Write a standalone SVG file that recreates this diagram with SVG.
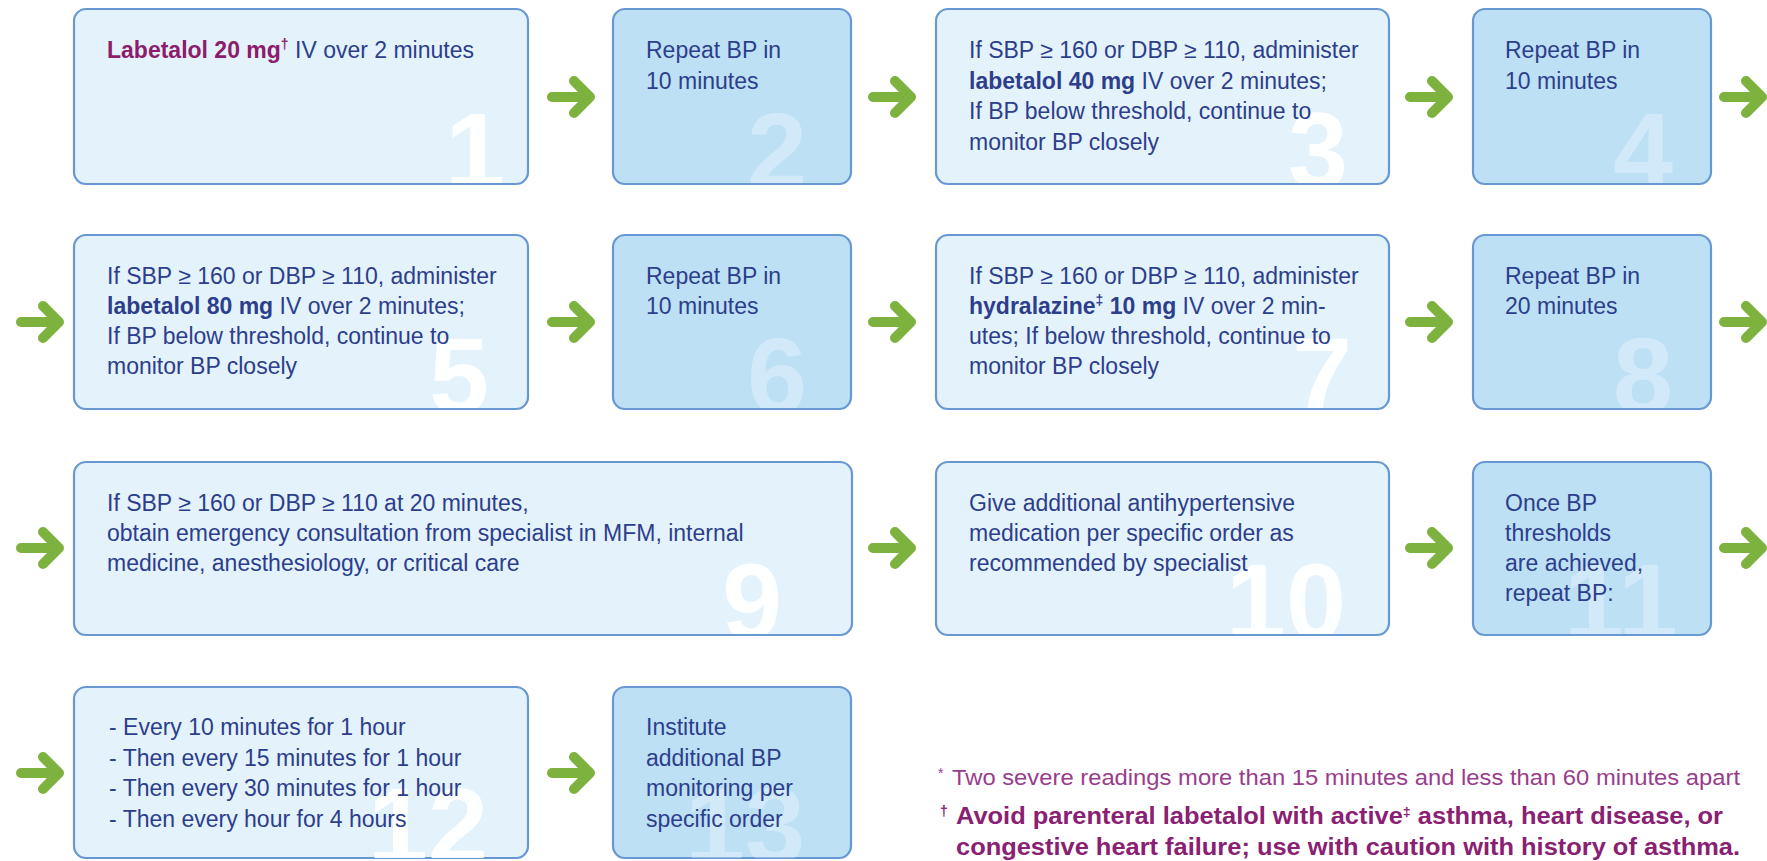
<svg xmlns="http://www.w3.org/2000/svg" width="1767" height="861" viewBox="0 0 1767 861">
<style>
.bl{fill:#e4f2fb;stroke:#6798d3;stroke-width:2.2}
.bd{fill:#bde0f5;stroke:#6798d3;stroke-width:2.2}
.t{font-family:"Liberation Sans",Arial,sans-serif;font-size:23px;fill:#2c3e8c}
.b{font-weight:bold}
.mag{fill:#8c1c6c}
.num{font-family:"Liberation Sans",Arial,sans-serif;font-weight:bold;font-size:108px;text-anchor:end;fill:#ffffff}
.nl{fill-opacity:0.95}
.nd{fill-opacity:0.3}
.arrow{fill:none;stroke:#7db23e;stroke-width:10;stroke-linecap:round;stroke-linejoin:round}
.fn{font-family:"Liberation Sans",Arial,sans-serif;font-size:22px}
.fn1{fill:#9a3c8c}
.fn2{fill:#8a2072;font-weight:bold;font-size:23px}
</style>
<defs>
<path id="arrow" class="arrow" d="M-19 0H16M3-16L19 0L3 16"/>
<clipPath id="c1"><rect x="75" y="10" width="452" height="173" rx="11"/></clipPath>
<clipPath id="c2"><rect x="614" y="10" width="236" height="173" rx="11"/></clipPath>
<clipPath id="c3"><rect x="937" y="10" width="451" height="173" rx="11"/></clipPath>
<clipPath id="c4"><rect x="1474" y="10" width="236" height="173" rx="11"/></clipPath>
<clipPath id="c5"><rect x="75" y="236" width="452" height="172" rx="11"/></clipPath>
<clipPath id="c6"><rect x="614" y="236" width="236" height="172" rx="11"/></clipPath>
<clipPath id="c7"><rect x="937" y="236" width="451" height="172" rx="11"/></clipPath>
<clipPath id="c8"><rect x="1474" y="236" width="236" height="172" rx="11"/></clipPath>
<clipPath id="c9"><rect x="75" y="463" width="776" height="171" rx="11"/></clipPath>
<clipPath id="c10"><rect x="937" y="463" width="451" height="171" rx="11"/></clipPath>
<clipPath id="c11"><rect x="1474" y="463" width="236" height="171" rx="11"/></clipPath>
<clipPath id="c12"><rect x="75" y="688" width="452" height="170" rx="11"/></clipPath>
<clipPath id="c13"><rect x="614" y="688" width="236" height="170" rx="11"/></clipPath>
</defs>
<rect width="1767" height="861" fill="#ffffff"/>

<g id="node1">
<rect class="bl" x="74" y="9" width="454" height="175" rx="12"/>
<text class="num nl" x="505" y="188" clip-path="url(#c1)">1</text>
<text class="t" x="107" y="58"><tspan class="mag b">Labetalol 20 mg</tspan><tspan class="mag b" font-size="14" dy="-9">†</tspan><tspan dy="9"> IV over 2 minutes</tspan></text>
</g>
<g id="node2">
<rect class="bd" x="613" y="9" width="238" height="175" rx="12"/>
<text class="num nd" x="807" y="188" clip-path="url(#c2)">2</text>
<text class="t" x="646" y="58">Repeat BP in</text>
<text class="t" x="646" y="88.5">10 minutes</text>
</g>
<g id="node3">
<rect class="bl" x="936" y="9" width="453" height="175" rx="12"/>
<text class="num nl" x="1348" y="188" clip-path="url(#c3)">3</text>
<text class="t" x="969" y="58">If SBP ≥ 160 or DBP ≥ 110, administer</text>
<text class="t" x="969" y="88.5"><tspan class="b">labetalol 40 mg</tspan> IV over 2 minutes;</text>
<text class="t" x="969" y="119">If BP below threshold, continue to</text>
<text class="t" x="969" y="149.5">monitor BP closely</text>
</g>
<g id="node4">
<rect class="bd" x="1473" y="9" width="238" height="175" rx="12"/>
<text class="num nd" x="1673" y="188" clip-path="url(#c4)">4</text>
<text class="t" x="1505" y="58">Repeat BP in</text>
<text class="t" x="1505" y="88.5">10 minutes</text>
</g>

<g id="node5">
<rect class="bl" x="74" y="235" width="454" height="174" rx="12"/>
<text class="num nl" x="489" y="413" clip-path="url(#c5)">5</text>
<text class="t" x="107" y="284">If SBP ≥ 160 or DBP ≥ 110, administer</text>
<text class="t" x="107" y="314"><tspan class="b">labetalol 80 mg</tspan> IV over 2 minutes;</text>
<text class="t" x="107" y="344">If BP below threshold, continue to</text>
<text class="t" x="107" y="374">monitor BP closely</text>
</g>
<g id="node6">
<rect class="bd" x="613" y="235" width="238" height="174" rx="12"/>
<text class="num nd" x="807" y="413" clip-path="url(#c6)">6</text>
<text class="t" x="646" y="284">Repeat BP in</text>
<text class="t" x="646" y="314">10 minutes</text>
</g>
<g id="node7">
<rect class="bl" x="936" y="235" width="453" height="174" rx="12"/>
<text class="num nl" x="1352" y="413" clip-path="url(#c7)">7</text>
<text class="t" x="969" y="284">If SBP ≥ 160 or DBP ≥ 110, administer</text>
<text class="t" x="969" y="314"><tspan class="b">hydralazine</tspan><tspan class="b" font-size="14" dy="-9">‡</tspan><tspan class="b" dy="9"> 10 mg</tspan> IV over 2 min-</text>
<text class="t" x="969" y="344">utes; If below threshold, continue to</text>
<text class="t" x="969" y="374">monitor BP closely</text>
</g>
<g id="node8">
<rect class="bd" x="1473" y="235" width="238" height="174" rx="12"/>
<text class="num nd" x="1673" y="413" clip-path="url(#c8)">8</text>
<text class="t" x="1505" y="284">Repeat BP in</text>
<text class="t" x="1505" y="314">20 minutes</text>
</g>

<g id="node9">
<rect class="bl" x="74" y="462" width="778" height="173" rx="12"/>
<text class="num nl" x="782" y="639" clip-path="url(#c9)">9</text>
<text class="t" x="107" y="511">If SBP ≥ 160 or DBP ≥ 110 at 20 minutes,</text>
<text class="t" x="107" y="541">obtain emergency consultation from specialist in MFM, internal</text>
<text class="t" x="107" y="571">medicine, anesthesiology, or critical care</text>
</g>
<g id="node10">
<rect class="bl" x="936" y="462" width="453" height="173" rx="12"/>
<text class="num nl" x="1346" y="639" clip-path="url(#c10)">10</text>
<text class="t" x="969" y="511">Give additional antihypertensive</text>
<text class="t" x="969" y="541">medication per specific order as</text>
<text class="t" x="969" y="571">recommended by specialist</text>
</g>
<g id="node11">
<rect class="bd" x="1473" y="462" width="238" height="173" rx="12"/>
<text class="num nd" x="1678" y="639" clip-path="url(#c11)">11</text>
<text class="t" x="1505" y="511">Once BP</text>
<text class="t" x="1505" y="541">thresholds</text>
<text class="t" x="1505" y="571">are achieved,</text>
<text class="t" x="1505" y="601">repeat BP:</text>
</g>

<g id="node12">
<rect class="bl" x="74" y="687" width="454" height="171" rx="12"/>
<text class="num nl" x="488" y="863" clip-path="url(#c12)">12</text>
<text class="t" x="109" y="735">- Every 10 minutes for 1 hour</text>
<text class="t" x="109" y="765.5">- Then every 15 minutes for 1 hour</text>
<text class="t" x="109" y="796">- Then every 30 minutes for 1 hour</text>
<text class="t" x="109" y="826.5">- Then every hour for 4 hours</text>
</g>
<g id="node13">
<rect class="bd" x="613" y="687" width="238" height="171" rx="12"/>
<text class="num nd" x="805" y="863" clip-path="url(#c13)">13</text>
<text class="t" x="646" y="735">Institute</text>
<text class="t" x="646" y="765.5">additional BP</text>
<text class="t" x="646" y="796">monitoring per</text>
<text class="t" x="646" y="826.5">specific order</text>
</g>

<g id="connectors">
<use href="#arrow" x="571" y="97"/>
<use href="#arrow" x="892" y="97"/>
<use href="#arrow" x="1429" y="97"/>
<use href="#arrow" x="1743" y="97"/>
<use href="#arrow" x="40" y="322"/>
<use href="#arrow" x="571" y="322"/>
<use href="#arrow" x="892" y="322"/>
<use href="#arrow" x="1429" y="322"/>
<use href="#arrow" x="1743" y="322"/>
<use href="#arrow" x="40" y="548"/>
<use href="#arrow" x="892" y="548"/>
<use href="#arrow" x="1429" y="548"/>
<use href="#arrow" x="1743" y="548"/>
<use href="#arrow" x="40" y="773"/>
<use href="#arrow" x="571" y="773"/>
</g>

<g id="footnotes">
<text class="fn fn1" x="938" y="785"><tspan font-size="14" dy="-7">*</tspan></text>
<text class="fn fn1" x="952" y="785" textLength="788" lengthAdjust="spacingAndGlyphs">Two severe readings more than 15 minutes and less than 60 minutes apart</text>
<text class="fn fn2" x="940" y="824"><tspan font-size="14" dy="-8">†</tspan></text>
<text class="fn fn2" x="956" y="824" textLength="767" lengthAdjust="spacingAndGlyphs">Avoid parenteral labetalol with active<tspan font-size="13" dy="-8">‡</tspan><tspan dy="8"> asthma, heart disease, or</tspan></text>
<text class="fn fn2" x="956" y="855" textLength="784" lengthAdjust="spacingAndGlyphs">congestive heart failure; use with caution with history of asthma.</text>
</g>
</svg>
